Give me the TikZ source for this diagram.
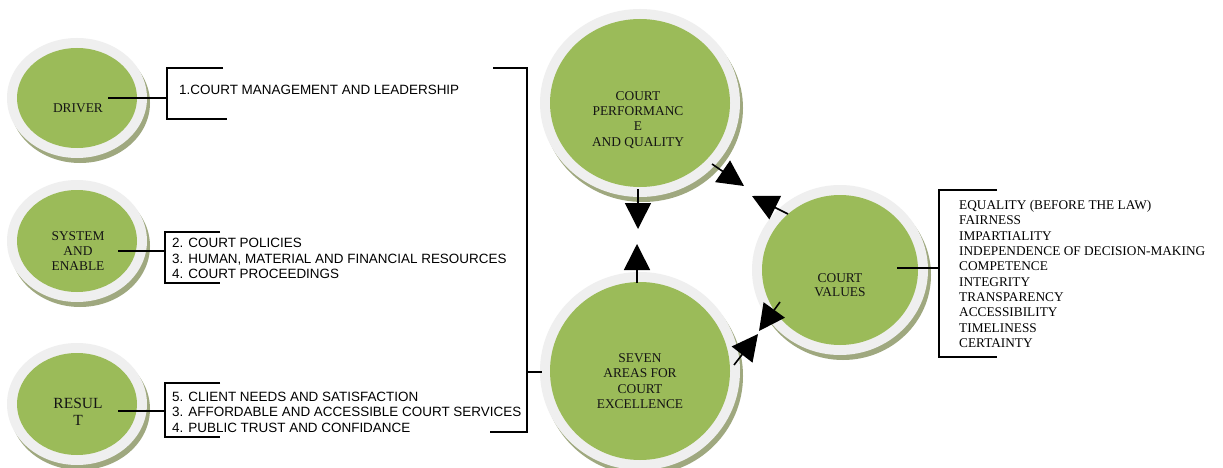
\documentclass[tikz,border=0pt]{standalone}
\usepackage{fontspec}
\setmainfont{Liberation Serif}
\newfontfamily\arialf{Liberation Sans}
\usetikzlibrary{shapes.geometric,arrows.meta}
\definecolor{gfill}{HTML}{9BBB59}
\definecolor{ringc}{HTML}{EFEFEF}
\definecolor{shad}{HTML}{7F8C55}
\tikzset{
  bub/.style={ellipse, fill=gfill, inner sep=0pt, draw=none},
  ctext/.style={align=center, font=\fontsize{13.4}{15.3}\selectfont, text=black!92},
  ltext/.style={align=left, anchor=west, inner sep=0pt, font=\arialf\fontsize{13.45}{15.5}\selectfont},
  vtext/.style={align=left, anchor=west, inner sep=0pt, font=\fontsize{13.3}{15.33}\selectfont},
  brk/.style={line width=1.6pt},
  arr/.style={line width=1.6pt, -{Triangle[length=26pt,width=26pt]}}
}
\newcommand\bubble[5]{%
  \fill[shad, opacity=0.75] (#2+3,#3+5) ellipse [x radius={#4pt+10pt}, y radius={#5pt+10pt}];
  \fill[ringc] (#2,#3) ellipse [x radius={#4pt+10pt}, y radius={#5pt+10pt}];
  \node[bub, minimum width={2*#4pt}, minimum height={2*#5pt}] (#1) at (#2,#3) {};
}
\begin{document}
\begin{tikzpicture}[x=1pt,y=-1pt]
\useasboundingbox (0,0) rectangle (1223,468);
\fill[white] (0,0) rectangle (1223,468);
\bubble{drv}{77}{98}{60}{50}
\bubble{sys}{77}{241}{60}{51}
\bubble{res}{77}{404}{60}{51}
\bubble{perf}{640}{103}{90}{84}
\bubble{seven}{640}{371}{90}{89}
\bubble{val}{840}{270}{78}{75}

\node[ctext] (drvt) at (78,108) {DRIVER};
\node[ctext] (syst) at (78,251) {SYSTEM\\AND\\ENABLE};
\node[ctext, font=\fontsize{15.5}{17}\selectfont] (rest) at (78,412) {RESUL\\T};
\node[ctext] (perft) at (638,120) {COURT\\PERFORMANC\\E\\AND QUALITY};
\node[ctext] (sevent) at (640,381) {SEVEN\\AREAS FOR\\COURT\\EXCELLENCE};
\node[ctext, font=\fontsize{13.4}{14}\selectfont] (valt) at (840,285) {COURT\\VALUES};

\node[ltext] (l1) at (179,90) {1.COURT MANAGEMENT AND LEADERSHIP};
\node[ltext] (l2) at (172,258.5) {2. COURT POLICIES\\3. HUMAN, MATERIAL AND FINANCIAL RESOURCES\\4. COURT PROCEEDINGS};
\node[ltext] (l3) at (172,412) {5. CLIENT NEEDS AND SATISFACTION\\3. AFFORDABLE AND ACCESSIBLE COURT SERVICES\\4. PUBLIC TRUST AND CONFIDANCE};
\node[vtext] (lv) at (959,274) {EQUALITY (BEFORE THE LAW)\\FAIRNESS\\IMPARTIALITY\\INDEPENDENCE OF DECISION-MAKING\\COMPETENCE\\INTEGRITY\\TRANSPARENCY\\ACCESSIBILITY\\TIMELINESS\\CERTAINTY};

% connectors from bubbles to brackets
\coordinate (d1s) at (108,98);   \coordinate (d1e) at (167,98);
\coordinate (s1s) at (118,251);  \coordinate (s1e) at (165,251);
\coordinate (r1s) at (118,411);  \coordinate (r1e) at (165,411);
\coordinate (v1s) at (897,268);  \coordinate (v1e) at (939,268);
\coordinate (m1s) at (527,372);  \coordinate (m1e) at (542,372);
\draw[brk] (d1s) -- (d1e);
\draw[brk] (s1s) -- (s1e);
\draw[brk] (r1s) -- (r1e);
\draw[brk] (v1s) -- (v1e);
\draw[brk] (m1s) -- (m1e);
% brackets
\draw[brk] (223,68) -- (167,68) -- (167,119) -- (227,119);
\draw[brk] (220,232) -- (165,232) -- (165,283) -- (220,283);
\draw[brk] (220,383) -- (165,383) -- (165,437) -- (220,437);
\draw[brk] (493,68) -- (527,68) -- (527,432) -- (490,432);
\draw[brk] (997,190) -- (939,190) -- (939,357) -- (997,357);

% arrows
\coordinate (a1s) at (638,189); \coordinate (a1e) at (638,229);
\coordinate (a2s) at (637,283); \coordinate (a2e) at (637,244);
\coordinate (a3s) at (712,164); \coordinate (a3e) at (744,186);
\coordinate (a4s) at (788,214); \coordinate (a4e) at (752,196);
\coordinate (a5s) at (734,365); \coordinate (a5e) at (758,334);
\coordinate (a6s) at (780,302); \coordinate (a6e) at (759,331);
\draw[arr] (a1s) -- (a1e);
\draw[arr] (a2s) -- (a2e);
\draw[arr] (a3s) -- (a3e);
\draw[arr] (a4s) -- (a4e);
\draw[arr] (a5s) -- (a5e);
\draw[arr] (a6s) -- (a6e);
\end{tikzpicture}
\end{document}
